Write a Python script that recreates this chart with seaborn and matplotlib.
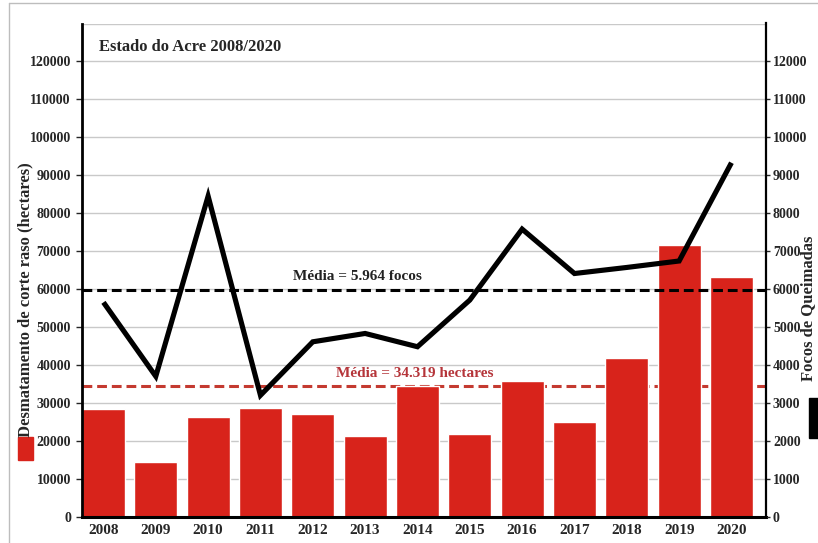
import matplotlib
matplotlib.use("Agg")
import matplotlib.pyplot as plt
import seaborn as sns
import pandas as pd
import numpy as np
from matplotlib.patches import Rectangle
from matplotlib.lines import Line2D

# dados
anos = ["2008", "2009", "2010", "2011", "2012", "2013", "2014",
        "2015", "2016", "2017", "2018", "2019", "2020"]
desmatamento = [28300, 14500, 26200, 28600, 27000, 21400, 34400,
                21700, 35800, 24900, 41700, 71500, 63200]
focos = [5650, 3700, 8450, 3200, 4610, 4830, 4480,
         5710, 7580, 6410, 6570, 6740, 9330]
media_desm = 34319
media_focos = 5964
ticks_esq = list(range(0, 120001, 10000))
ticks_dir = list(range(0, 12001, 1000))

df = pd.DataFrame({"ano": anos, "desm": desmatamento, "focos": focos})
df["pos"] = np.arange(len(df))

sns.set_style("white")
plt.rcParams["font.family"] = ["Liberation Serif", "DejaVu Serif"]
plt.rcParams["font.weight"] = "bold"

W, H = 818, 543
fig = plt.figure(figsize=(W / 100, H / 100), dpi=100)
ax = fig.add_axes([82 / W, 1 - 516.7 / H, 684 / W, (516.7 - 23.5) / H])

verm = "#d8231b"
ax.set_axisbelow(True)
for v in list(range(0, 130001, 10000)):
    ax.axhline(v, color="#c9c9c9", lw=1.0, zorder=0.5)

sns.barplot(data=df, x="ano", y="desm", color=verm, width=0.82,
            saturation=1, ax=ax, zorder=2)
ax.axhline(media_desm, color="#c43a30", lw=2.2, ls=(0, (3.2, 1.6)), zorder=1.5)
ax.text(4.45, media_desm + 3400, "Média = 34.319 hectares", color="#b5353a",
        fontsize=11, fontweight="bold", va="center", ha="left", zorder=1.6)

ax.set_xlim(-0.41, 12.66)
ax.set_ylim(0, 130000)
ax.set_yticks(ticks_esq)
ax.set_yticklabels([str(t) for t in ticks_esq], fontsize=10, fontweight="bold")
ax.tick_params(axis="y", left=True, length=4, width=1, pad=4)
ax.tick_params(axis="x", bottom=False, length=0, pad=5, labelsize=11)
for lab in ax.get_xticklabels():
    lab.set_fontweight("bold")
ax.set_xlabel("")
ax.set_ylabel("")
ax.spines["left"].set_linewidth(2)
ax.spines["left"].set_color("black")
ax.spines["bottom"].set_linewidth(2.2)
ax.spines["bottom"].set_color("black")
ax.spines["top"].set_visible(False)
ax.spines["right"].set_visible(False)

ax.text(0.025, 0.953, "Estado do Acre 2008/2020", transform=ax.transAxes,
        fontsize=12, fontweight="bold", va="center", ha="left")

ax2 = ax.twinx()
sns.lineplot(data=df, x="pos", y="focos", color="black", lw=3.7, ax=ax2,
             zorder=4)
for ln in ax2.get_lines():
    ln.set_solid_joinstyle("miter")
    ln.set_solid_capstyle("butt")
ax2.axhline(media_focos, color="black", lw=2.2, ls=(0, (3.2, 1.6)), zorder=3)
ax2.text(3.62, media_focos + 380, "Média = 5.964 focos", color="#222222",
         fontsize=11, fontweight="bold", va="center", ha="left")
ax2.set_ylim(0, 13000)
ax2.set_xlim(-0.41, 12.66)
ax2.set_yticks(ticks_dir)
ax2.set_yticklabels([str(t) for t in ticks_dir], fontsize=10, fontweight="bold")
ax2.tick_params(axis="y", right=True, length=3, width=1, pad=2)
ax2.set_xlabel("")
ax2.set_ylabel("")
ax2.spines["right"].set_linewidth(1.6)
ax2.spines["right"].set_color("black")
for s in ["left", "top", "bottom"]:
    ax2.spines[s].set_visible(False)

# rotulos dos eixos com marcadores de legenda
fig.text(25 / W, 1 - 300 / H, "Desmatamento de corte raso (hectares)",
         rotation=90, fontsize=12, fontweight="bold", ha="center", va="center")
fig.patches.append(Rectangle((18 / W, 1 - 460 / H), 15 / W, 23 / H,
                             transform=fig.transFigure, color=verm))
fig.text(808.5 / W, 1 - 308 / H, "Focos de Queimadas", rotation=90,
         fontsize=12, fontweight="bold", ha="center", va="center")
fig.patches.append(Rectangle((809 / W, 1 - 438 / H), 10 / W, 40 / H,
                             transform=fig.transFigure, color="black"))

# moldura clara da imagem
fig.lines.append(Line2D([9 / W, 1], [1 - 3 / H, 1 - 3 / H],
                        transform=fig.transFigure, color="#bdbdbd", lw=1))
fig.lines.append(Line2D([9 / W, 9 / W], [0, 1 - 3 / H],
                        transform=fig.transFigure, color="#bdbdbd", lw=1))

fig.savefig("out.png", dpi=100)
